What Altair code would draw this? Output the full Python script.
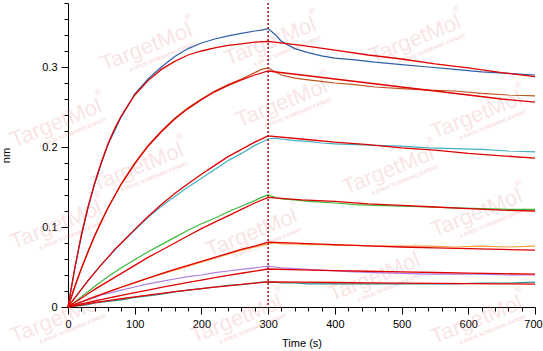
import altair as alt
import pandas as pd

# ---------------- data ----------------
T_DATA = [0, 10, 20, 30, 40, 50, 60, 80, 100, 120, 140, 160, 180, 200, 220, 240, 260, 280, 290, 300,
          310, 320, 340, 360, 380, 400, 430, 460, 500, 540, 580, 620, 660, 700]

DATA_1 = [0, 0.047, 0.089, 0.124, 0.154, 0.180, 0.203, 0.238, 0.266, 0.285, 0.300, 0.313, 0.323, 0.330,
          0.335, 0.339, 0.342, 0.345, 0.346, 0.348, 0.341, 0.332, 0.323, 0.318, 0.314, 0.311, 0.309,
          0.306, 0.303, 0.300, 0.297, 0.294, 0.292, 0.290]
DATA_2 = [0, 0.025, 0.048, 0.069, 0.089, 0.107, 0.124, 0.154, 0.180, 0.202, 0.220, 0.236, 0.249, 0.260,
          0.270, 0.278, 0.285, 0.293, 0.297, 0.299, 0.294, 0.290, 0.286, 0.284, 0.282, 0.280, 0.278,
          0.275, 0.273, 0.271, 0.270, 0.267, 0.265, 0.264]
DATA_3 = [0, 0.011, 0.022, 0.033, 0.043, 0.053, 0.062, 0.080, 0.096, 0.112, 0.126, 0.138, 0.150, 0.161,
          0.172, 0.183, 0.192, 0.202, 0.206, 0.210, 0.211, 0.210, 0.208, 0.207, 0.205, 0.204, 0.203,
          0.202, 0.201, 0.199, 0.198, 0.197, 0.195, 0.194]
DATA_4 = [0, 0.006, 0.013, 0.019, 0.026, 0.032, 0.038, 0.049, 0.059, 0.069, 0.078, 0.087, 0.096, 0.104,
          0.111, 0.119, 0.126, 0.133, 0.137, 0.140, 0.137, 0.135, 0.134, 0.132, 0.131, 0.130, 0.128,
          0.127, 0.126, 0.125, 0.124, 0.123, 0.122, 0.122]
DATA_5 = [0, 0.003, 0.006, 0.010, 0.013, 0.016, 0.019, 0.025, 0.030, 0.036, 0.041, 0.046, 0.051, 0.056,
          0.061, 0.066, 0.071, 0.075, 0.077, 0.079, 0.080, 0.079, 0.079, 0.078, 0.078, 0.077, 0.077,
          0.076, 0.076, 0.076, 0.075, 0.076, 0.075, 0.076]
DATA_6 = [0, 0.003, 0.006, 0.009, 0.012, 0.015, 0.017, 0.021, 0.025, 0.029, 0.032, 0.035, 0.038, 0.040,
          0.043, 0.045, 0.047, 0.049, 0.050, 0.051, 0.050, 0.049, 0.048, 0.047, 0.046, 0.045, 0.044,
          0.043, 0.042, 0.041, 0.041, 0.041, 0.040, 0.040]
DATA_7 = [0, 0.001, 0.002, 0.003, 0.005, 0.006, 0.007, 0.009, 0.012, 0.014, 0.016, 0.019, 0.021, 0.023,
          0.025, 0.027, 0.028, 0.030, 0.031, 0.031, 0.031, 0.030, 0.030, 0.029, 0.029, 0.029, 0.029,
          0.029, 0.029, 0.029, 0.029, 0.030, 0.030, 0.031]

T_FIT = [0, 10, 20, 30, 40, 50, 60, 70, 80, 100, 120, 140, 160, 180, 200, 220, 240, 260, 280, 300,
         350, 400, 450, 500, 550, 600, 650, 700]
FIT_1 = [0, 0.048, 0.090, 0.125, 0.155, 0.181, 0.204, 0.223, 0.239, 0.265, 0.283, 0.297, 0.307, 0.315,
         0.320, 0.324, 0.327, 0.329, 0.331, 0.332, 0.327, 0.321, 0.315, 0.310, 0.304, 0.299, 0.293, 0.288]
FIT_2 = [0, 0.025, 0.048, 0.069, 0.089, 0.107, 0.124, 0.139, 0.154, 0.179, 0.201, 0.219, 0.235, 0.248,
         0.259, 0.269, 0.277, 0.284, 0.290, 0.295, 0.290, 0.285, 0.280, 0.275, 0.270, 0.265, 0.260, 0.256]
FIT_3 = [0, 0.011, 0.022, 0.033, 0.043, 0.053, 0.062, 0.072, 0.080, 0.097, 0.113, 0.128, 0.142, 0.154,
         0.166, 0.177, 0.188, 0.197, 0.206, 0.214, 0.210, 0.206, 0.203, 0.199, 0.196, 0.192, 0.189, 0.186]
FIT_4 = [0, 0.0056, 0.011, 0.0165, 0.022, 0.027, 0.032, 0.037, 0.042, 0.052, 0.062, 0.071, 0.080, 0.089,
         0.098, 0.106, 0.114, 0.122, 0.130, 0.137, 0.134, 0.132, 0.129, 0.127, 0.125, 0.123, 0.121, 0.120]
FIT_5 = [0, 0.0032, 0.0064, 0.0096, 0.0127, 0.0157, 0.0188, 0.0218, 0.0247, 0.0305, 0.036, 0.0417, 0.047,
         0.052, 0.057, 0.062, 0.067, 0.072, 0.076, 0.081, 0.0795, 0.078, 0.0765, 0.075, 0.074, 0.073,
         0.072, 0.071]
FIT_6 = [0, 0.0019, 0.0038, 0.0056, 0.0075, 0.0093, 0.011, 0.0128, 0.0146, 0.0179, 0.0212, 0.0245, 0.0276,
         0.0307, 0.0337, 0.0366, 0.0394, 0.0422, 0.0448, 0.0475, 0.0465, 0.0455, 0.0447, 0.0439, 0.0431,
         0.0424, 0.0417, 0.041]
FIT_7 = [0, 0.0014, 0.0027, 0.0041, 0.0054, 0.0067, 0.0079, 0.0091, 0.0103, 0.0127, 0.0149, 0.0171, 0.0191,
         0.0211, 0.023, 0.0248, 0.0265, 0.0283, 0.0299, 0.0315, 0.031, 0.0306, 0.0302, 0.0299, 0.0296,
         0.0292, 0.0289, 0.0286]

SERIES = ["s1", "s2", "s3", "s4", "s5", "s6", "s7"]
DATA_COLORS = ["#2E5EAA", "#C0561E", "#45AFC0", "#3DB83D", "#F5A042", "#B07EE2", "#2A8C8C"]
FIT_COLOR = "#E00000"
STEP_TIME = [300]

X_TICKS = list(range(0, 701, 20))
Y_TICKS = [round(i * 0.02, 2) for i in range(20)]

# watermark positions (time, nm), kept fully inside the canvas
WM_T = [117, 520, 320, -18, 612, 104, 480, -18, 275, 612, 459, 612, 252, 303, -18]
WM_V = [0.325, 0.335, 0.255, 0.23, 0.24, 0.175, 0.171, 0.1025, 0.0925, 0.1175, 0.0375, -0.016,
        -0.015, 0.332, -0.015]

# ---------------- build tables ----------------
data_rows = []
for s, vals in zip(SERIES, [DATA_1, DATA_2, DATA_3, DATA_4, DATA_5, DATA_6, DATA_7]):
    for t, v in zip(T_DATA, vals):
        data_rows.append({"t": t, "v": v, "s": s})
data_df = pd.DataFrame(data_rows)

fit_rows = []
for s, vals in zip(SERIES, [FIT_1, FIT_2, FIT_3, FIT_4, FIT_5, FIT_6, FIT_7]):
    for t, v in zip(T_FIT, vals):
        fit_rows.append({"t": t, "v": v, "s": s})
fit_df = pd.DataFrame(fit_rows)

wm_df = pd.DataFrame({"t": WM_T, "v": WM_V})
step_df = pd.DataFrame({"t": STEP_TIME})

FONT = "Liberation Sans"

x_scale = alt.Scale(domain=[0, 700], nice=False, zero=False)
y_scale = alt.Scale(domain=[0, 0.38], nice=False)

x_axis = alt.Axis(
    values=X_TICKS,
    format="d",
    labelExpr="datum.value % 100 === 0 ? datum.label : ''",
    tickSize={"condition": {"test": "datum.value % 100 === 0", "value": 7}, "value": 4},
    labelOffset={"condition": {"test": "datum.value === 700", "value": -2}, "value": 0},
    labelFlush=False,
    labelOverlap=False,
    labelPadding=4,
    title="Time (s)",
    titlePadding=8,
)
y_axis = alt.Axis(
    values=Y_TICKS,
    labelExpr="abs(datum.value*10 - round(datum.value*10)) < 0.001 ? format(datum.value, '~g') : ''",
    tickSize={"condition": {"test": "abs(datum.value*10 - round(datum.value*10)) < 0.001", "value": 7},
              "value": 4},
    labelOverlap=False,
    labelPadding=4,
    title="nm",
    titlePadding=30,
)

X = alt.X("t:Q", scale=x_scale, axis=x_axis)
Y = alt.Y("v:Q", scale=y_scale, axis=y_axis)

wm_main = alt.Chart(wm_df).mark_text(
    text="TargetMol", font=FONT, fontSize=22, angle=338, color="#E88A8A", opacity=0.22,
    align="center", baseline="middle",
).encode(x=X, y=Y)
wm_sub = alt.Chart(wm_df).mark_text(
    text="A DRUG SCREENING EXPERT", font=FONT, fontSize=5, fontWeight="bold", angle=338,
    color="#E88A8A", opacity=0.3, align="center", baseline="middle", dx=12, dy=15,
).encode(x=X, y=Y)
wm_reg = alt.Chart(wm_df).mark_text(
    text="®", font=FONT, fontSize=8, angle=338, color="#E88A8A", opacity=0.3,
    align="center", baseline="middle", dx=50, dy=-12,
).encode(x=X, y=Y)

data_lines = alt.Chart(data_df).mark_line(strokeWidth=1.2).encode(
    x=X, y=Y,
    color=alt.Color("s:N", scale=alt.Scale(domain=SERIES, range=DATA_COLORS), legend=None),
    detail="s:N",
)
fit_lines = alt.Chart(fit_df).mark_line(strokeWidth=1.3, color=FIT_COLOR).encode(
    x=X, y=Y, detail="s:N",
)
step_rule = alt.Chart(step_df).mark_rule(
    color="#A01818", strokeWidth=1.5, strokeDash=[2, 2],
).encode(x=X)

chart = alt.layer(wm_main, wm_sub, wm_reg, data_lines, fit_lines, step_rule).properties(
    width=467, height=304,
    padding={"left": 68, "top": 3, "right": 8, "bottom": 44},
    autosize="none",
    background="white",
).configure_view(strokeWidth=0).configure_axis(
    labelFont=FONT, titleFont=FONT, labelFontSize=11, titleFontSize=11,
    titleFontWeight="normal", labelColor="#000000", titleColor="#000000",
    domainColor="#000000", tickColor="#000000", grid=False, domainWidth=1, tickWidth=1,
)

chart.save("out.html", embed_options={"renderer": "svg", "actions": False})
